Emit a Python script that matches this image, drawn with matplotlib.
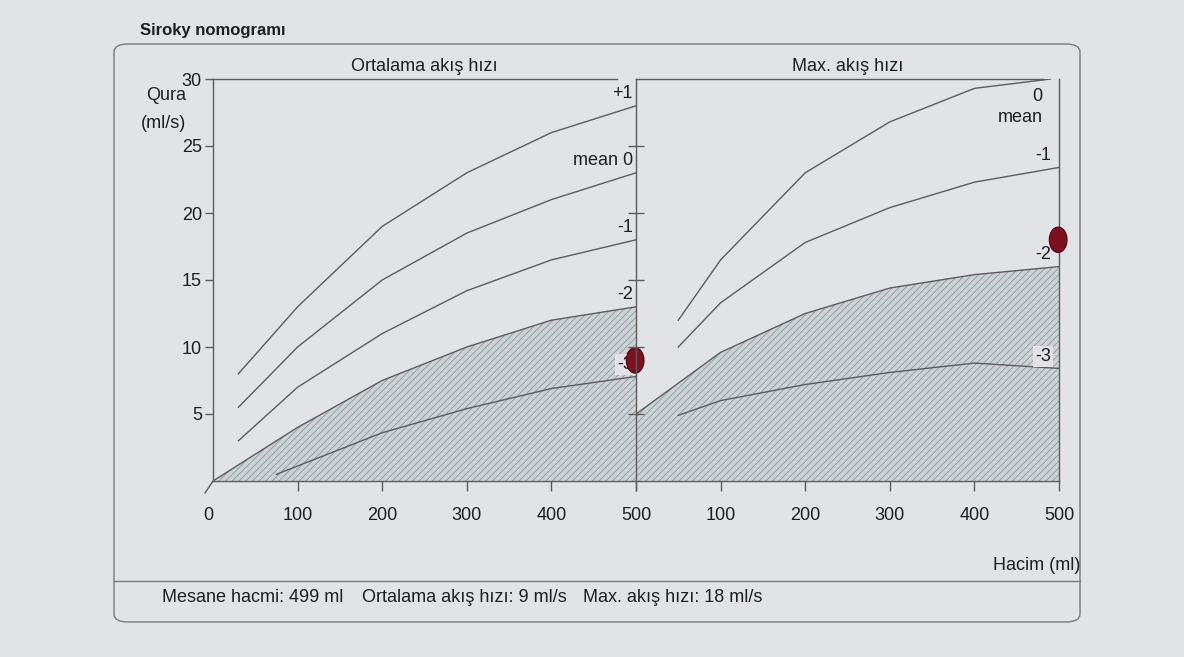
import matplotlib
matplotlib.use("Agg")
import matplotlib.pyplot as plt
from matplotlib.patches import FancyBboxPatch, Ellipse
from matplotlib.lines import Line2D

# ---------------- data ----------------
# Left panel: Ortalama akış hızı (mean flow) percentile curves
mean_p1_x = [30, 100, 200, 300, 400, 500]
mean_p1_y = [8, 13, 19, 23, 26, 28]
mean_0_x = [30, 100, 200, 300, 400, 500]
mean_0_y = [5.5, 10, 15, 18.5, 21, 23]
mean_m1_x = [30, 100, 200, 300, 400, 500]
mean_m1_y = [3, 7, 11, 14.2, 16.5, 18]
mean_m2_x = [0, 100, 200, 300, 400, 500]
mean_m2_y = [0, 4, 7.5, 10, 12, 13]
mean_m3_x = [75, 200, 300, 400, 500]
mean_m3_y = [0.5, 3.6, 5.4, 6.9, 7.8]
mean_labels = ["+1", "mean 0", "-1", "-2", "-3"]

# Right panel: Max. akış hızı (max flow) percentile curves
max_0_x = [50, 100, 200, 300, 400, 490]
max_0_y = [12, 16.5, 23, 26.8, 29.3, 30]
max_m1_x = [50, 100, 200, 300, 400, 500]
max_m1_y = [10, 13.3, 17.8, 20.4, 22.3, 23.4]
max_m2_x = [0, 100, 200, 300, 400, 500]
max_m2_y = [5, 9.6, 12.5, 14.4, 15.4, 16]
max_m3_x = [50, 100, 200, 300, 400, 500]
max_m3_y = [4.9, 6.0, 7.2, 8.1, 8.8, 8.4]
max_labels = ["0\nmean", "-1", "-2", "-3"]

x_ticks = [0, 100, 200, 300, 400, 500]
y_ticks = [5, 10, 15, 20, 25, 30]

patient_volume = 499
patient_mean_flow = 9
patient_max_flow = 18

# ---------------- style ----------------
BG = "#e2e3e7"
LINE = "#5c5c5c"
TXT = "#1e1e22"
HATCH_FACE = "#cdd3d5"
HATCH_EDGE = "#8a999d"
DOT = "#7d0f1e"
FS = 13

plt.rcParams["font.family"] = ["Liberation Sans", "DejaVu Sans"]
plt.rcParams["hatch.linewidth"] = 0.6

W, H = 1184, 657
fig = plt.figure(figsize=(W / 100, H / 100), dpi=100, facecolor=BG)


def fx(px):
    return px / W


def fy(py):
    return 1 - py / H


# outer rounded box and separator
box = FancyBboxPatch((fx(114), fy(622)), fx(1080) - fx(114), fy(44) - fy(622),
                     boxstyle="round,pad=0,rounding_size=0.012",
                     transform=fig.transFigure, facecolor="none",
                     edgecolor="#7a7a7e", linewidth=1.0)
fig.patches.append(box)
fig.lines.append(Line2D([fx(114), fx(1080)], [fy(581), fy(581)],
                        transform=fig.transFigure, color="#7a7a7e", linewidth=1.0))
# small slanted tick at the origin
fig.lines.append(Line2D([fx(213), fx(205)], [fy(481), fy(493)],
                        transform=fig.transFigure, color=LINE, linewidth=1.0))

ax_l = fig.add_axes([fx(213), fy(481), (636 - 213) / W, (481 - 79) / H])
ax_r = fig.add_axes([fx(636), fy(481), (1059 - 636) / W, (481 - 79) / H])

for ax in (ax_l, ax_r):
    ax.set_xlim(0, 500)
    ax.set_ylim(0, 30)
    ax.patch.set_visible(False)
    for s in ax.spines.values():
        s.set_color(LINE)
        s.set_linewidth(1.0)
    ax.set_xticks(x_ticks)


def hatched(ax, xs, ys):
    ax.fill_between(xs, 0, ys, facecolor=HATCH_FACE, edgecolor=HATCH_EDGE,
                    hatch="/////", linewidth=0, zorder=1)
    ax.plot(xs, ys, color=LINE, linewidth=1.0, zorder=2)


def curve(ax, xs, ys):
    ax.plot(xs, ys, color=LINE, linewidth=1.0, zorder=2)


def end_label(ax, text, xs, ys, dy_px, dx_px, boxed=True):
    ax.annotate(text, xy=(xs[-1], ys[-1]), xytext=(dx_px * 0.72, dy_px * 0.72),
                textcoords="offset points", ha="right", va="center",
                multialignment="right", fontsize=FS, color=TXT, zorder=4,
                linespacing=1.3, annotation_clip=False,
                bbox=dict(boxstyle="square,pad=0.1", facecolor=BG,
                          edgecolor="none") if boxed else None)


# ---- left panel ----
hatched(ax_l, mean_m2_x, mean_m2_y)
curve(ax_l, mean_p1_x, mean_p1_y)
curve(ax_l, mean_0_x, mean_0_y)
curve(ax_l, mean_m1_x, mean_m1_y)
curve(ax_l, mean_m3_x, mean_m3_y)

left_series = [(mean_p1_x, mean_p1_y), (mean_0_x, mean_0_y), (mean_m1_x, mean_m1_y),
               (mean_m2_x, mean_m2_y), (mean_m3_x, mean_m3_y)]
for lab, (xs, ys) in zip(mean_labels, left_series):
    end_label(ax_l, lab, xs, ys, 12, -3)

ax_l.spines["right"].set_visible(False)
ax_l.spines["top"].set_bounds(0, 477)
ax_l.set_yticks(y_ticks)
ax_l.set_xticks(x_ticks)
ax_l.tick_params(axis="y", direction="out", length=6, width=1, color=LINE,
                 labelsize=FS, labelcolor=TXT, pad=2)
ax_l.tick_params(axis="x", direction="out", length=7, width=1, color=LINE,
                 labelsize=FS, labelcolor=TXT, pad=12)
ax_l.xaxis.get_major_ticks()[0].tick1line.set_visible(False)
ax_l.xaxis.get_major_ticks()[0].label1.set_horizontalalignment("right")
ax_l.set_title("Ortalama akış hızı", fontsize=FS, color=TXT, pad=6)

# ---- right panel ----
hatched(ax_r, max_m2_x, max_m2_y)
curve(ax_r, max_0_x, max_0_y)
curve(ax_r, max_m1_x, max_m1_y)
curve(ax_r, max_m3_x, max_m3_y)

right_series = [(max_0_x, max_0_y), (max_m1_x, max_m1_y), (max_m2_x, max_m2_y),
                (max_m3_x, max_m3_y)]
for i, (lab, (xs, ys)) in enumerate(zip(max_labels, right_series)):
    if i == 0:
        end_label(ax_r, lab, xs, ys, -28, -8, boxed=False)
    else:
        end_label(ax_r, lab, xs, ys, 12, -8)

ax_r.spines["top"].set_bounds(0, 481)
ax_r.set_yticks(y_ticks[:-1])
ax_r.tick_params(axis="y", direction="inout", length=12, width=1, color=LINE,
                 labelleft=False)
ax_r.set_xticks(x_ticks)
ax_r.set_xticklabels([""] + [str(v) for v in x_ticks[1:]])
ax_r.tick_params(axis="x", direction="out", length=7, width=1, color=LINE,
                 labelsize=FS, labelcolor=TXT, pad=12)
ax_r.set_title("Max. akış hızı", fontsize=FS, color=TXT, pad=6)

# patient points
dot_w, dot_h = 21, 1.9
ax_l.add_patch(Ellipse((patient_volume, patient_mean_flow), dot_w, dot_h,
                       facecolor=DOT, edgecolor="#4a0610", linewidth=0.8,
                       zorder=6, clip_on=False))
ax_r.add_patch(Ellipse((patient_volume, patient_max_flow), dot_w, dot_h,
                       facecolor=DOT, edgecolor="#4a0610", linewidth=0.8,
                       zorder=6, clip_on=False))

# figure texts
fig.text(fx(140), fy(30), "Siroky nomogramı", fontsize=12, fontweight="bold",
         color=TXT, ha="left", va="center")
fig.text(fx(166), fy(96), "Qura", fontsize=FS, color=TXT, ha="center", va="center")
fig.text(fx(164), fy(123), "(ml/s)", fontsize=FS, color=TXT, ha="center", va="center")
fig.text(fx(1080), fy(566), "Hacim (ml)", fontsize=FS, color=TXT, ha="right", va="center")
fig.text(fx(162), fy(597), f"Mesane hacmi: {patient_volume} ml", fontsize=FS,
         color=TXT, ha="left", va="center")
fig.text(fx(362), fy(597), f"Ortalama akış hızı: {patient_mean_flow} ml/s", fontsize=FS,
         color=TXT, ha="left", va="center")
fig.text(fx(583), fy(597), f"Max. akış hızı: {patient_max_flow} ml/s", fontsize=FS,
         color=TXT, ha="left", va="center")

fig.savefig("out.png", dpi=100, facecolor=BG)
